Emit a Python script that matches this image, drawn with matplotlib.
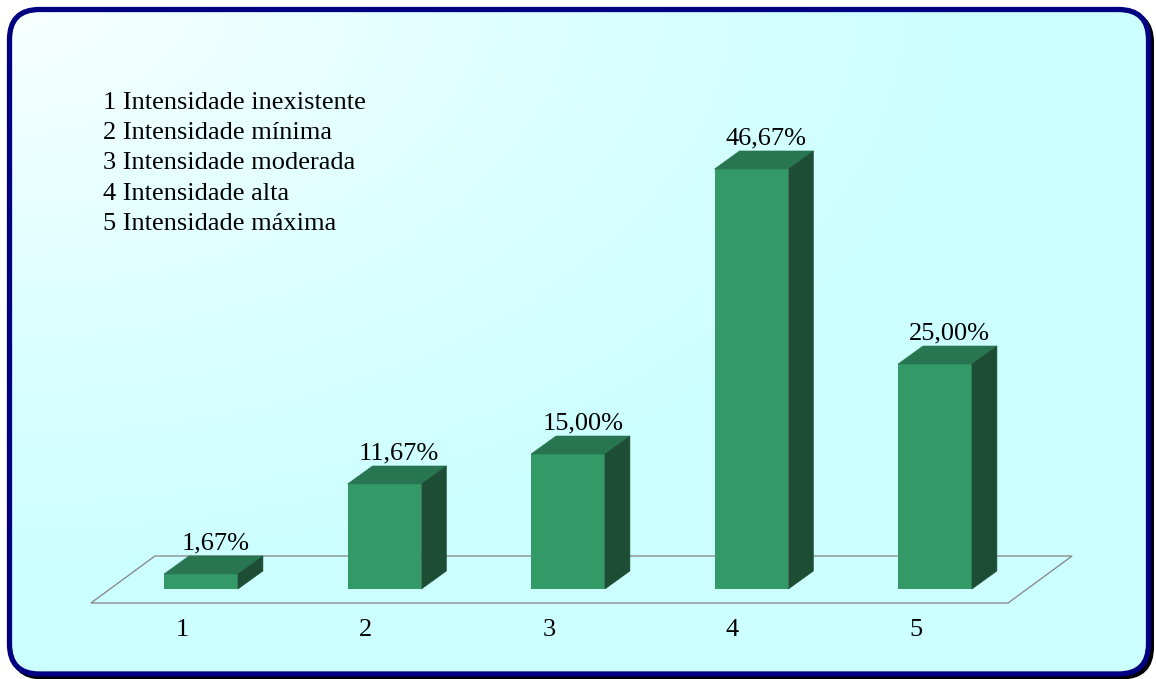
import numpy as np
import matplotlib
matplotlib.use("Agg")
import matplotlib.pyplot as plt
from matplotlib.patches import FancyBboxPatch, Polygon

plt.rcParams['font.family'] = ['Liberation Serif', 'DejaVu Serif']

# --- data -------------------------------------------------------------
categories = [1, 2, 3, 4, 5]
percentages = [1.67, 11.67, 15.00, 46.67, 25.00]
value_labels = ["1,67%", "11,67%", "15,00%", "46,67%", "25,00%"]
tick_labels = ["1", "2", "3", "4", "5"]
legend_lines = [
    "1 Intensidade inexistente",
    "2 Intensidade mínima",
    "3 Intensidade moderada",
    "4 Intensidade alta",
    "5 Intensidade máxima",
]

# --- styling ----------------------------------------------------------
FRONT = "#339966"
TOP = "#287552"
SIDE = "#1E4D35"
NAVY = "#000080"
FLOOR_LINE = "#8C8C8C"
FONT_SIZE = 19

W, H = 1156, 679
fig = plt.figure(figsize=(W / 100, H / 100), dpi=100)
fig.patch.set_facecolor("white")

# background layer in pixel units: gradient panel with rounded navy frame
bg = fig.add_axes([0, 0, 1, 1])
bg.set_xlim(0, W)
bg.set_ylim(H, 0)
bg.axis("off")

shadow = FancyBboxPatch((12.5, 12.5), 1139, 664.5,
                        boxstyle="round,pad=0,rounding_size=30",
                        fc="none", ec="black", lw=3.6, zorder=1)
bg.add_patch(shadow)

frame = FancyBboxPatch((9.5, 9.5), 1139, 664.5,
                       boxstyle="round,pad=0,rounding_size=30",
                       fc="none", ec=NAVY, lw=3.8, zorder=3)
bg.add_patch(frame)

yy, xx = np.mgrid[0:H, 0:W]
t = np.clip(np.hypot(xx / W, yy / H) / 0.85, 0, 1) ** 0.8
c0 = np.array([252, 255, 255]) / 255.0
c1 = np.array([204, 255, 255]) / 255.0
grad = c0[None, None, :] * (1 - t[..., None]) + c1[None, None, :] * t[..., None]
img = bg.imshow(grad, extent=(0, W, H, 0), zorder=2, interpolation="bilinear")
img.set_clip_path(frame)

# legend text block
for i, line in enumerate(legend_lines):
    bg.text(103, 109 + 30.2 * i, line, fontsize=FONT_SIZE, color="black",
            ha="left", va="baseline", zorder=5)

# --- chart axes -------------------------------------------------------
ax = fig.add_axes([0, 0, 1, 1])
ax.patch.set_visible(False)
ax.axis("off")
ax.set_xlim(-0.0954, 6.2044)
ax.set_ylim(-10, 65.444)

bar_w = 0.403
dx, dy = 0.136, 2.0          # depth offset of the 3-D bars

# floor parallelogram
floor_x0, floor_x1 = 0.400, 5.398
floor_front = -1.556
fdx, fdy = 0.349, 5.222
floor = Polygon([(floor_x0, floor_front), (floor_x1, floor_front),
                 (floor_x1 + fdx, floor_front + fdy),
                 (floor_x0 + fdx, floor_front + fdy)],
                closed=True, fc="none", ec=FLOOR_LINE, lw=1.0, zorder=1)
ax.add_patch(floor)

# bars: front face, top face, right side face
ax.bar(categories, percentages, width=bar_w, color=FRONT, zorder=3,
       linewidth=0)
for x, v in zip(categories, percentages):
    x0, x1 = x - bar_w / 2, x + bar_w / 2
    ax.add_patch(Polygon([(x0, v), (x1, v), (x1 + dx, v + dy), (x0 + dx, v + dy)],
                         closed=True, fc=TOP, ec=TOP, lw=0.4, zorder=3))
    ax.add_patch(Polygon([(x1, 0), (x1, v), (x1 + dx, v + dy), (x1 + dx, dy)],
                         closed=True, fc=SIDE, ec=SIDE, lw=0.4, zorder=3))

# value labels above each bar
for x, v, lab in zip(categories, percentages, value_labels):
    ax.annotate(lab, (x + dx / 2 + 0.012, v + dy), xytext=(0, 4.6),
                textcoords="offset points", ha="center", va="baseline",
                fontsize=FONT_SIZE, color="black", zorder=5)

# category labels along the front edge of the floor
shift = fdx * (floor_front / fdy)
for x, lab in zip(categories, tick_labels):
    ax.annotate(lab, (x + shift, floor_front), xytext=(0, -23.5),
                textcoords="offset points", ha="center", va="baseline",
                fontsize=FONT_SIZE, color="black", zorder=5)

fig.savefig("out.png", dpi=100)
